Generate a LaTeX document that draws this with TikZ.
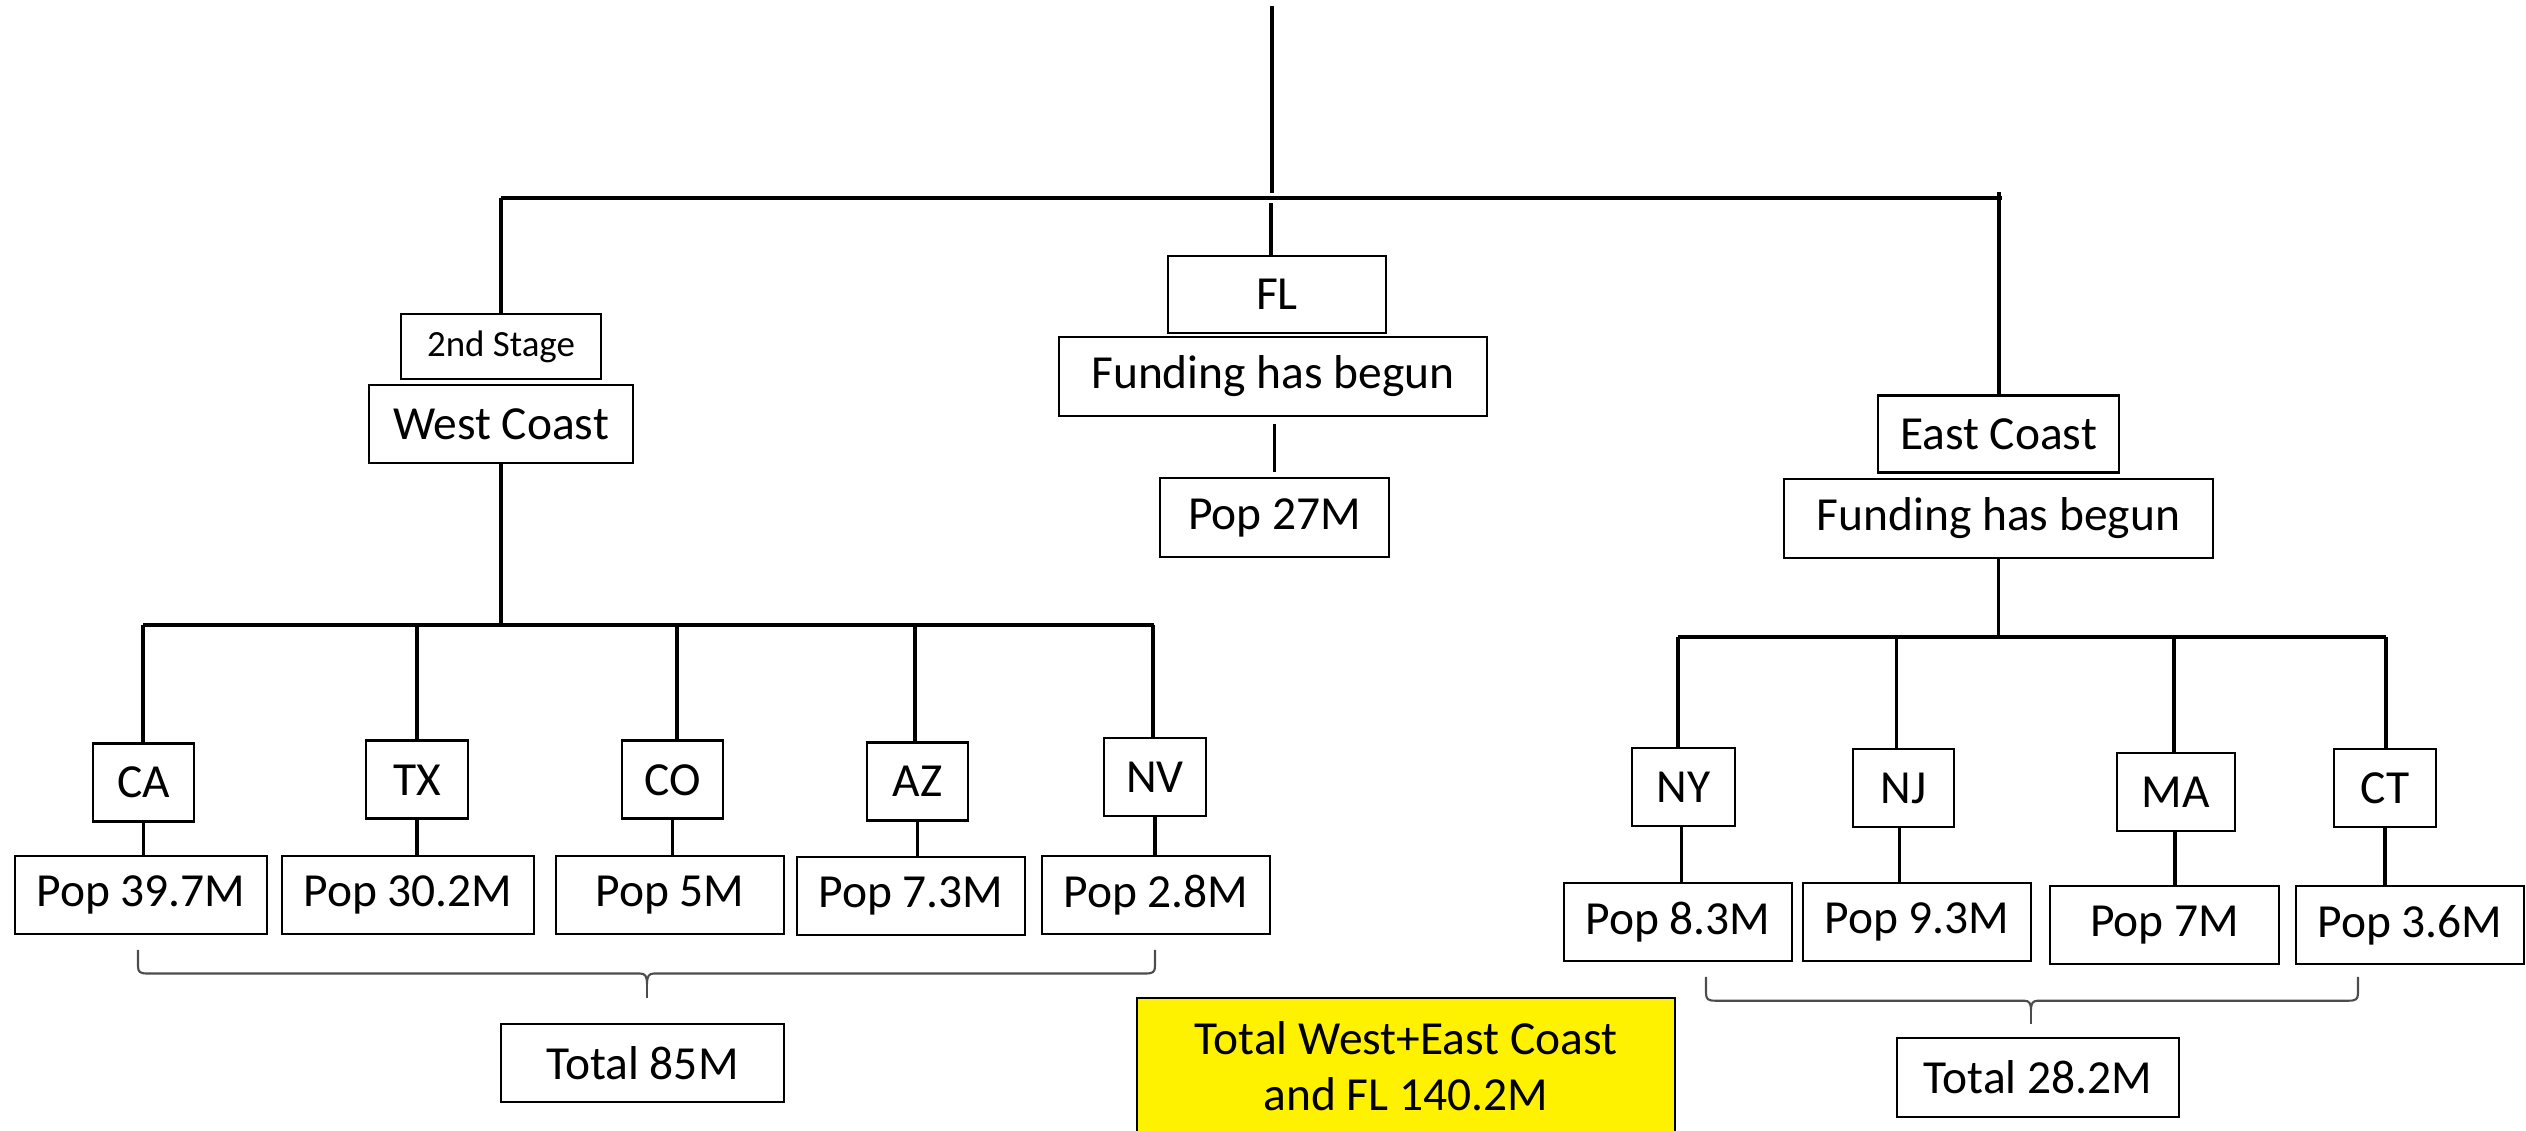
\documentclass[tikz,border=0pt]{standalone}
\usepackage{fontspec}
\setmainfont{Carlito}
\newcommand\bx[6]{\node[sbox,minimum width=#4*0.01cm,minimum height=#5*0.01cm] (#1) at (#2,#3) {#6};}
\begin{document}
\begin{tikzpicture}[x=0.01cm,y=-0.01cm,
  sbox/.style={draw, line width=0.75pt, inner sep=0pt, font=\fontsize{13.5pt}{16.2pt}\selectfont},
  conn/.style={line width=0.95pt},
  bar/.style={line width=1.25pt},
  bracepath/.style={line width=0.6pt, draw=black!70}]
\useasboundingbox (0,0) rectangle (2526,1131);

% ---- top level ----
\coordinate (top) at (1272,6);
\coordinate (tbL) at (501,198);
\coordinate (tbR) at (2002,198);
\coordinate (tbM) at (1272,193);
\draw[conn] (top) -- (tbM);
\draw[bar] (tbL) -- (tbR);

% ---- West ----
\node[sbox,font=\fontsize{10.5pt}{12.6pt}\selectfont,minimum width=2cm,minimum height=0.65cm] (stage2) at (501,346.5) {2nd Stage};
\bx{west}{501}{424}{264}{78}{West Coast}
\draw[conn] (tbL) -- (stage2.north);

\coordinate (wbL) at (143,625);
\coordinate (wbR) at (1154,625);
\draw[bar] (wbL) -- (wbR);
\draw[conn] (west.south) -- (west.south |- wbL);

\bx{CA}{143.5}{782.7}{101}{78}{CA}
\bx{TX}{417}{779.8}{102}{78}{TX}
\bx{CO}{672.5}{779.8}{101}{78}{CO}
\bx{AZ}{917.5}{781.5}{101}{78}{AZ}
\bx{NV}{1155}{777}{102}{78}{NV}

\bx{CApop}{141}{895}{252}{78}{Pop 39.7M}
\bx{TXpop}{408}{895}{252}{78}{Pop 30.2M}
\bx{COpop}{670}{895}{228}{78}{Pop 5M}
\bx{AZpop}{911}{896}{228}{78}{Pop 7.3M}
\bx{NVpop}{1156}{895}{228}{78}{Pop 2.8M}

\foreach \n/\x in {CA/143,TX/417,CO/677,AZ/915,NV/1153}{
  \coordinate (j\n) at (\x,625);
  \draw[conn] (j\n) -- (j\n |- \n.north);
  \draw[conn] (\n.south) -- (\n.south |- \n pop.north);
}

\bx{wtotal}{642.5}{1063}{283}{78}{Total 85M}
\draw[bracepath] (138,950) -- (138,966) .. controls (138,972) and (140,973.5) .. (147,973.5)
  -- (640,973.5) .. controls (645,973.5) and (647,976) .. (647,984)
  .. controls (647,976) and (649,973.5) .. (654,973.5) -- (1146,973.5)
  .. controls (1153,973.5) and (1155,972) .. (1155,966) -- (1155,950);
\coordinate (wtip) at (647,998);
\draw[bracepath] (647,984) -- (wtip);

% ---- FL ----
\bx{FL}{1277}{294.5}{218}{77}{FL}
\bx{FLfund}{1273}{376.5}{428}{79}{Funding has begun}
\bx{FLpop}{1274.5}{517.5}{229}{79}{Pop 27M}
\coordinate (flj) at (1271,203);
\draw[conn] (flj) -- (flj |- FL.north);
\draw[conn] ([yshift=-0.07cm]FLfund.south -| FLpop.north) -- ([yshift=0.05cm]FLpop.north);

% ---- East ----
\bx{east}{1998.5}{434.3}{241}{77}{East Coast}
\bx{Efund}{1998.5}{518.5}{429}{79}{Funding has begun}
\coordinate (ej) at (1999,192);
\draw[conn] (ej) -- (ej |- east.north);
\coordinate (ebL) at (1678,637);
\coordinate (ebR) at (2386,637);
\draw[bar] (ebL) -- (ebR);
\draw[conn] (Efund.south) -- (Efund.south |- ebL);

\bx{NY}{1683.5}{787}{103}{78}{NY}
\bx{NJ}{1903.5}{788}{101}{78}{NJ}
\bx{MA}{2176}{792}{118}{78}{MA}
\bx{CT}{2385}{788}{102}{78}{CT}

\bx{NYpop}{1678}{922}{228}{78}{Pop 8.3M}
\bx{NJpop}{1917}{922}{228}{78}{Pop 9.3M}
\bx{MApop}{2164.5}{925}{229}{78}{Pop 7M}
\bx{CTpop}{2410}{925}{228}{78}{Pop 3.6M}

\foreach \n/\x/\s in {NY/1678/1681.5,NJ/1896.5/1899.5,MA/2174/2175,CT/2386/2385}{
  \coordinate (j\n) at (\x,637);
  \coordinate (s\n) at (\s,0);
  \draw[conn] (j\n) -- (j\n |- \n.north);
  \draw[conn] (s\n |- \n.south) -- (s\n |- \n pop.north);
}

\bx{etotal}{2038}{1077.5}{282}{79}{Total 28.2M}
\draw[bracepath] (1706,977) -- (1706,993) .. controls (1706,999) and (1708,1000.7) .. (1715,1000.7)
  -- (2024,1000.7) .. controls (2029,1000.7) and (2031,1003) .. (2031,1010)
  .. controls (2031,1003) and (2033,1000.7) .. (2038,1000.7) -- (2349,1000.7)
  .. controls (2356,1000.7) and (2358,999) .. (2358,993) -- (2358,977);
\coordinate (etip) at (2031,1024);
\draw[bracepath] (2031,1010) -- (etip);

% ---- grand total ----
\node[sbox, fill=yellow, align=center, font=\fontsize{13.5pt}{15.9pt}\selectfont,
  minimum width=5.375cm, minimum height=1.36cm] (grand) at (1406,1066)
  {Total West+East Coast\\and FL 140.2M};
\end{tikzpicture}
\end{document}
